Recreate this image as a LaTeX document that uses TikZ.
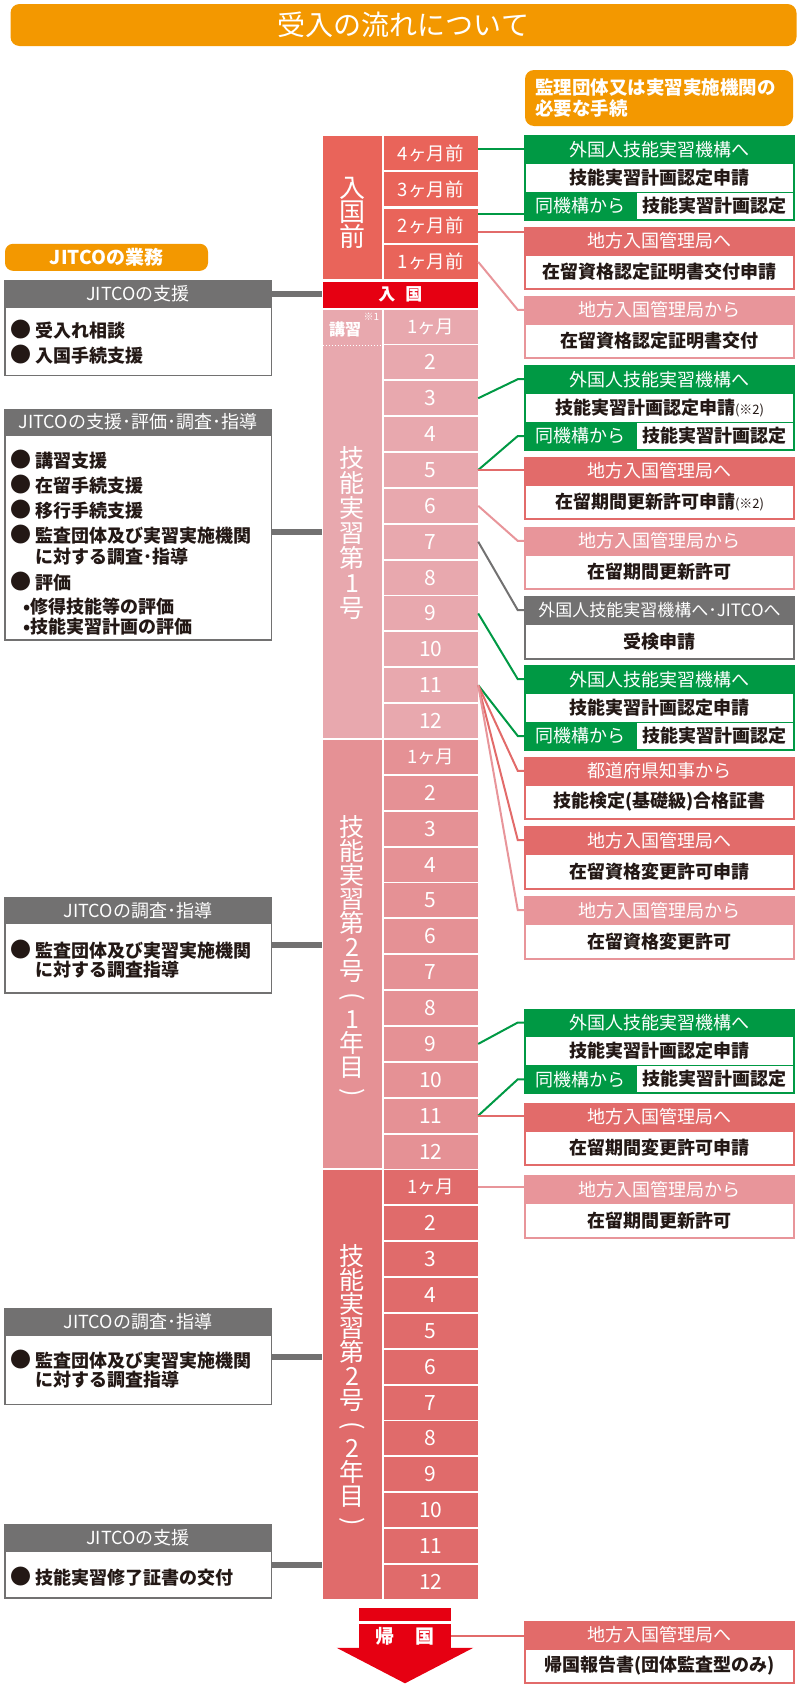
\documentclass[tikz,border=0pt]{standalone}
\usepackage{fontspec}
\setmainfont{Noto Sans CJK JP}
\definecolor{orng}{HTML}{F39800}
\definecolor{grn}{HTML}{009944}
\definecolor{redh}{HTML}{E26B6A}
\definecolor{pnkh}{HTML}{E8959A}
\definecolor{gry}{HTML}{727171}
\definecolor{prec}{HTML}{E9645A}
\definecolor{nyuc}{HTML}{E60012}
\definecolor{kac}{HTML}{E8A8AE}
\definecolor{kbc}{HTML}{E59195}
\definecolor{kcc}{HTML}{E06B6B}
\definecolor{txt}{HTML}{231815}
\newcommand{\fsz}[1]{\fontsize{#1}{#1}\selectfont}
\newcommand{\bul}{{\fsz{21}●}\hspace{4pt}}
\newcommand{\vpo}{\rotatebox[origin=c]{-90}{(}}
\newcommand{\vpc}{\rotatebox[origin=c]{-90}{)}}
\tikzset{
  hdr/.style={inner sep=0, minimum width=271pt, minimum height=28pt, text=white, font=\fsz{18}},
  bodyw/.style={inner sep=0, fill=white, text=txt, font=\fsz{18}\bfseries},
  lhdr/.style={inner sep=0, minimum width=268pt, minimum height=27pt, text=white, font=\fsz{18}},
  item/.style={anchor=west, inner sep=0, text=txt, font=\fsz{18}\bfseries},
  cell/.style={inner sep=0, minimum width=94.5pt, minimum height=34pt, text=white, font=\fsz{21}},
  vlab/.style={inner sep=0, text=white, align=center},
  gl/.style={grn, line width=2pt},
  rl/.style={redh, line width=2pt},
  pl/.style={pnkh, line width=2pt},
  yl/.style={gry, line width=2pt},
  jl/.style={gry, line width=6pt},
}
\newcommand{\gbox}[3]{%
  \node[fill=grn, anchor=north west, minimum width=271pt, minimum height=85.5pt, inner sep=0] (#1) at (524,#2) {};
  \node[hdr] (#1h) at (659.5,#2+14.2) {外国人技能実習機構へ};
  \node[bodyw, minimum width=267pt, minimum height=27.5pt] (#1b) at (659.5,#2+42.8) {#3};
  \node[hdr, minimum width=112pt] (#1c) at (580,#2+71) {同機構から};
  \node[bodyw, minimum width=156.3pt, minimum height=25.8pt] (#1d) at (714.85,#2+70.6) {技能実習計画認定};
}
\newcommand{\rbox}[5]{%
  \node[fill=#2, anchor=north west, minimum width=271pt, minimum height=63.5pt, inner sep=0] (#1) at (524,#3) {};
  \node[hdr] (#1h) at (659.5,#3+14.2) {#4};
  \node[bodyw, minimum width=267pt, minimum height=32.5pt] (#1b) at (659.5,#3+45.3) {#5};
}
\newcommand{\lbox}[4]{%
  \node[fill=gry, anchor=north west, minimum width=268pt, minimum height={#3-#2}, inner sep=0] (#1) at (4,#2) {};
  \node[lhdr] (#1h) at (138,#2+13.7) {#4};
  \node[fill=white, anchor=north, minimum width=265pt, minimum height={#3-#2-29}, inner sep=0] (#1b) at (138,#2+27.5) {};
}
\begin{document}
\begin{tikzpicture}[x=1pt,y=-1pt]
\useasboundingbox (0,0) rectangle (800,1692);
% title and headings
\node[fill=orng, rounded corners=9pt, inner sep=0, minimum width=786pt, minimum height=42pt, text=white, font=\fsz{28}] (title) at (403.5,25) {受入の流れについて};
\node[fill=orng, rounded corners=9pt, inner sep=0, minimum width=268pt, minimum height=56pt] (kanri) at (659,98) {};
\node[anchor=west, inner sep=0, align=left, text=white, font=\fontsize{18.5}{21}\selectfont\bfseries] (kanriT) at (535,98) {監理団体又は実習実施機関の\\必要な手続};
\node[fill=orng, rounded corners=8pt, inner sep=0, minimum width=203pt, minimum height=27pt, text=white, font=\fsz{19}\bfseries] (jitco) at (106.5,257.3) {JITCOの業務};

% timeline: pre-entry
\node[fill=prec, inner sep=0, minimum width=59pt, minimum height=142.7pt] (pre) at (352,207.35) {};
\node[vlab, font=\fontsize{26}{24}\selectfont] (preL) at (352,213) {入\\国\\前};
\node[cell, fill=prec, font=\fsz{18.5}] (p4) at (430.75,153) {4ヶ月前};
\node[cell, fill=prec, font=\fsz{18.5}] (p3) at (430.75,189.3) {3ヶ月前};
\node[cell, fill=prec, font=\fsz{18.5}] (p2) at (430.75,225.6) {2ヶ月前};
\node[cell, fill=prec, font=\fsz{18.5}] (p1) at (430.75,261.9) {1ヶ月前};
\node[fill=nyuc, inner sep=0, minimum width=155.5pt, minimum height=26pt, text=white, font=\fsz{17}\bfseries] (nyu) at (400.25,294.7) {入\hspace{10pt}国};

% left blocks
\node[fill=kac, inner sep=0, minimum width=59pt, minimum height=428.4pt] (k1) at (352,523.7) {};
\node[fill=kbc, inner sep=0, minimum width=59pt, minimum height=428.4pt] (k2) at (352,954.16) {};
\node[fill=kcc, inner sep=0, minimum width=59pt, minimum height=428.4pt] (k3) at (352,1384.6) {};
\draw[white, line width=1pt, dash pattern=on 1.5pt off 1.5pt] (322.5,345) -- (381.5,345);
\node[inner sep=0, text=white, font=\fsz{16}\bfseries] (kosh) at (345,329) {講習};
\node[inner sep=0, text=white, font=\fsz{10}] (kosn) at (371.5,317) {※1};
\node[vlab, font=\fontsize{25}{25}\selectfont] (k1L) at (352,533) {技\\能\\実\\習\\第\\1\\号};
\node[vlab, font=\fontsize{25}{24}\selectfont] (k2L) at (352,958) {技\\能\\実\\習\\第\\2\\号\\\vpo\\1\\年\\目\\\vpc};
\node[vlab, font=\fontsize{25}{24}\selectfont] (k3L) at (352,1387) {技\\能\\実\\習\\第\\2\\号\\\vpo\\2\\年\\目\\\vpc};

% month cells
\foreach \k in {0,...,35}{
  \pgfmathtruncatemacro{\m}{mod(\k,12)+1}
  \pgfmathtruncatemacro{\s}{\k/12}
  \pgfmathsetmacro{\yc}{326.5+35.87*\k}
  \ifnum\s=0 \def\cc{kac}\fi
  \ifnum\s=1 \def\cc{kbc}\fi
  \ifnum\s=2 \def\cc{kcc}\fi
  \node[cell, fill=\cc] (r\k) at (430.75,\yc) {\ifnum\m=1 \fsz{18.5}1ヶ月\else\m\fi};
}

% return arrow
\node[fill=nyuc, inner sep=0, minimum width=92pt, minimum height=13.3pt] (kbar) at (405,1614.35) {};
\fill[nyuc] (336.7,1647.8) -- (473.3,1647.8) -- (405,1683.3) -- cycle;
\node[fill=nyuc, inner sep=0, minimum width=92pt, minimum height=24.5pt, text=white, font=\fsz{19}\bfseries] (kb) at (405,1636.3) {帰\hspace{21pt}国};

% right boxes
\gbox{G1}{135}{技能実習計画認定申請}
\rbox{R1}{redh}{226.7}{地方入国管理局へ}{在留資格認定証明書交付申請}
\rbox{P1}{pnkh}{295.7}{地方入国管理局から}{在留資格認定証明書交付}
\gbox{G2}{365}{技能実習計画認定申請{\fsz{13}\mdseries(※2)}}
\rbox{R2}{redh}{456.7}{地方入国管理局へ}{在留期間更新許可申請{\fsz{13}\mdseries(※2)}}
\rbox{P2}{pnkh}{526.7}{地方入国管理局から}{在留期間更新許可}
\rbox{Y}{gry}{596}{\fsz{17}外国人技能実習機構へ･JITCOへ}{受検申請}
\gbox{G3}{665}{技能実習計画認定申請}
\rbox{R3}{redh}{756.7}{都道府県知事から}{技能検定(基礎級)合格証書}
\rbox{R4}{redh}{826}{地方入国管理局へ}{在留資格変更許可申請}
\rbox{P3}{pnkh}{896}{地方入国管理局から}{在留資格変更許可}
\gbox{G4}{1008.3}{技能実習計画認定申請}
\rbox{R5}{redh}{1102.7}{地方入国管理局へ}{在留期間変更許可申請}
\rbox{P4}{pnkh}{1175}{地方入国管理局から}{在留期間更新許可}
\rbox{R6}{redh}{1620.7}{地方入国管理局へ}{帰国報告書(団体監査型のみ)}

% left boxes
\lbox{B1}{280}{376}{JITCOの支援}
\lbox{B2}{408.3}{640.7}{JITCOの支援･評価･調査･指導}
\lbox{B3}{896.7}{993.3}{JITCOの調査･指導}
\lbox{B4}{1308}{1405}{JITCOの調査･指導}
\lbox{B5}{1524}{1598.3}{JITCOの支援}
\node[item] (i11) at (10.5,330) {\bul 受入れ相談};
\node[item] (i12) at (10.5,355) {\bul 入国手続支援};
\node[item] (i21) at (10.5,460) {\bul 講習支援};
\node[item] (i22) at (10.5,485) {\bul 在留手続支援};
\node[item] (i23) at (10.5,510) {\bul 移行手続支援};
\node[item] (i24) at (10.5,535) {\bul 監査団体及び実習実施機関};
\node[item] (i25) at (35,556.7) {に対する調査･指導};
\node[item] (i26) at (10.5,581.7) {\bul 評価};
\node[item] (i27) at (23,606.7) {•修得技能等の評価};
\node[item] (i28) at (23,626.7) {•技能実習計画の評価};
\node[item] (i31) at (10.5,950) {\bul 監査団体及び実習実施機関};
\node[item] (i32) at (35,970) {に対する調査指導};
\node[item] (i41) at (10.5,1360) {\bul 監査団体及び実習実施機関};
\node[item] (i42) at (35,1380) {に対する調査指導};
\node[item] (i51) at (10.5,1576.7) {\bul 技能実習修了証書の交付};

% JITCO connectors
\draw[jl] (B1h.east) -- (B1h.east -| nyu.west);
\draw[jl] ([yshift=-7.2pt]B2.east) -- ([yshift=-7.2pt]B2.east -| k1.west);
\draw[jl] (B3.east) -- (B3.east -| k2.west);
\draw[jl] (B4.east) -- (B4.east -| k3.west);
\draw[jl] ([yshift=-3.8pt]B5.east) -- ([yshift=-3.8pt]B5.east -| k3.west);

% procedure connectors
\draw[gl] (G1h.west -| p4.east) -- (G1h.west);
\draw[gl] ([yshift=11.3pt]p2.east) -- ([yshift=11.3pt]p2.east -| G1.west);
\draw[rl] ([yshift=-6pt]p2.east) -- ([yshift=-6pt]p2.east -| R1.west);
\draw[pl] (p1.east) -- ([xshift=-6pt]P1h.west) -- (P1h.west);
\draw[gl] (r2.east) -- ([xshift=-6pt]G2h.west) -- (G2h.west);
\draw[gl] (r4.east) -- ([xshift=-6pt]G2c.west) -- (G2c.west);
\draw[rl] (r4.east) -- (r4.east -| R2.west);
\draw[pl] (r5.east) -- ([xshift=-6pt]P2h.west) -- (P2h.west);
\draw[yl] (r6.east) -- ([xshift=-6pt]Yh.west) -- (Yh.west);
\draw[gl] (r8.east) -- ([xshift=-6pt]G3h.west) -- (G3h.west);
\draw[gl] (r10.east) -- ([xshift=-6pt]G3c.west) -- (G3c.west);
\draw[rl] (r10.east) -- ([xshift=-6pt]R3h.west) -- (R3h.west);
\draw[rl] (r10.east) -- ([xshift=-6pt]R4h.west) -- (R4h.west);
\draw[pl] (r10.east) -- ([xshift=-6pt]P3h.west) -- (P3h.west);
\draw[gl] (r20.east) -- ([xshift=-6pt]G4h.west) -- (G4h.west);
\draw[gl] (r22.east) -- ([xshift=-6pt]G4c.west) -- (G4c.west);
\draw[rl] (r22.east) -- (r22.east -| R5.west);
\draw[pl] (r24.east) -- (r24.east -| P4.west);
\draw[rl] (kb.east) -- (kb.east -| R6.west);
\end{tikzpicture}
\end{document}
